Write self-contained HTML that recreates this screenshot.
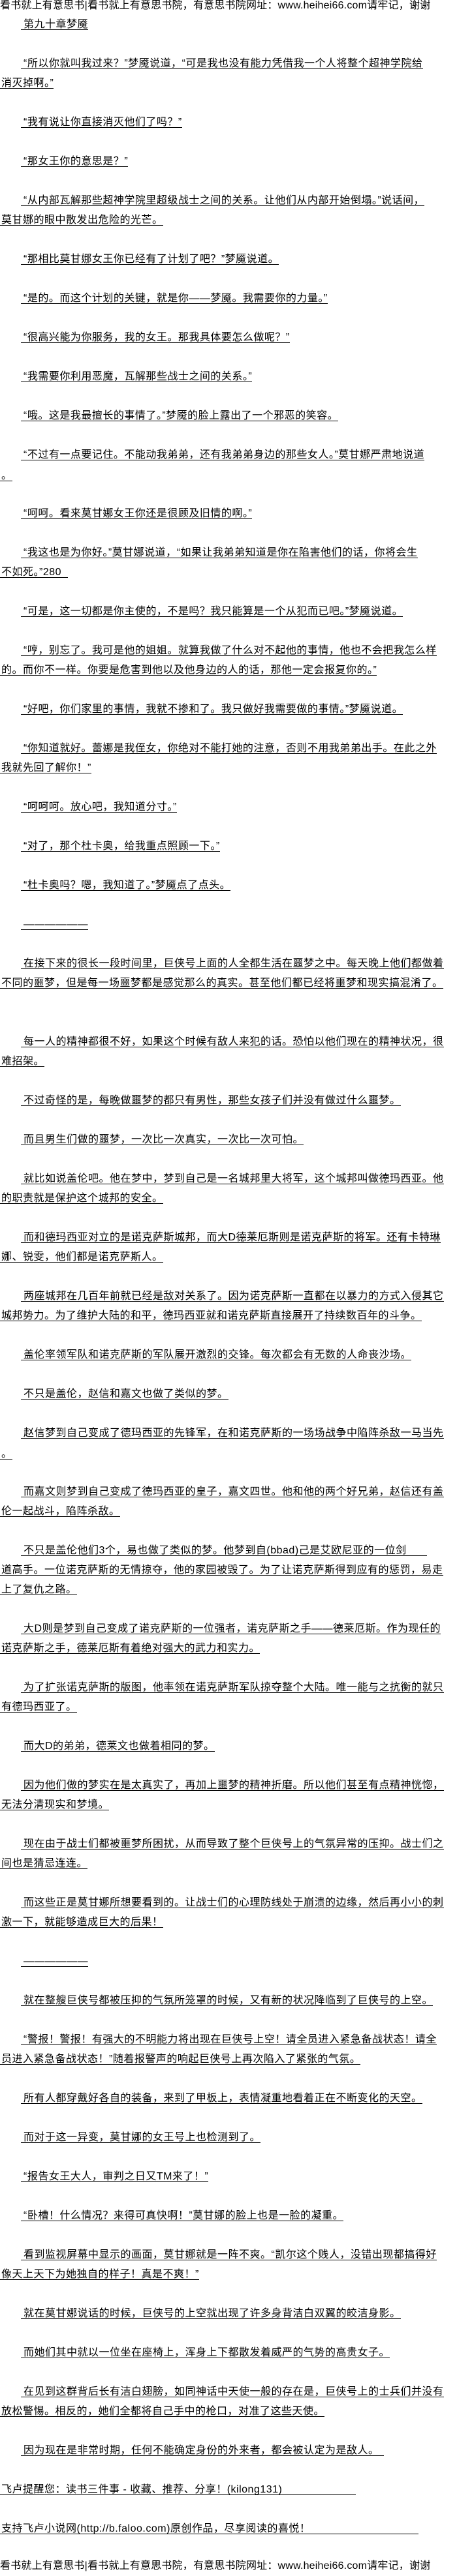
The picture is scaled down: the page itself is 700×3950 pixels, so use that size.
<!DOCTYPE html>
<html><head><meta charset="utf-8"><style>
html,body{margin:0;padding:0;background:#fff;}
body{width:700px;height:3950px;position:relative;overflow:hidden;font-family:"Liberation Sans","Noto Sans CJK SC",sans-serif;color:#000;}
div{position:absolute;white-space:nowrap;font-size:16px;line-height:14px;height:14px;letter-spacing:0.5px;}
.i{left:32px;padding-left:4px;border-bottom:1px solid #000;}
.c{left:0;padding-left:2px;border-bottom:1px solid #000;}
.h{left:0;border:none;letter-spacing:0.2px;}
</style></head><body>
<div class="h" style="top:2px">看书就上有意思书|看书就上有意思书院，有意思书院网址：www.heihei66.com请牢记，谢谢</div>
<div class="i" style="top:31px">第九十章梦魇</div>
<div class="i" style="top:91px">“所以你就叫我过来？”梦魇说道，“可是我也没有能力凭借我一个人将整个超神学院给</div>
<div class="c" style="top:121px">消灭掉啊。”</div>
<div class="i" style="top:181px">“我有说让你直接消灭他们了吗？”</div>
<div class="i" style="top:241px">“那女王你的意思是？”</div>
<div class="i" style="top:301px">“从内部瓦解那些超神学院里超级战士之间的关系。让他们从内部开始倒塌。”说话间，</div>
<div class="c" style="top:331px">莫甘娜的眼中散发出危险的光芒。</div>
<div class="i" style="top:391px">“那相比莫甘娜女王你已经有了计划了吧？”梦魇说道。</div>
<div class="i" style="top:451px">“是的。而这个计划的关键，就是你——梦魇。我需要你的力量。”</div>
<div class="i" style="top:511px">“很高兴能为你服务，我的女王。那我具体要怎么做呢？”</div>
<div class="i" style="top:571px">“我需要你利用恶魔，瓦解那些战士之间的关系。”</div>
<div class="i" style="top:631px">“哦。这是我最擅长的事情了。”梦魇的脸上露出了一个邪恶的笑容。</div>
<div class="i" style="top:691px">“不过有一点要记住。不能动我弟弟，还有我弟弟身边的那些女人。”莫甘娜严肃地说道</div>
<div class="c" style="top:723px">。</div>
<div class="i" style="top:781px">“呵呵。看来莫甘娜女王你还是很顾及旧情的啊。”</div>
<div class="i" style="top:841px">“我这也是为你好。”莫甘娜说道，“如果让我弟弟知道是你在陷害他们的话，你将会生</div>
<div class="c" style="top:871px">不如死。”280&nbsp;&nbsp;</div>
<div class="i" style="top:931px">“可是，这一切都是你主使的，不是吗？我只能算是一个从犯而已吧。”梦魇说道。</div>
<div class="i" style="top:991px">“哼，别忘了。我可是他的姐姐。就算我做了什么对不起他的事情，他也不会把我怎么样</div>
<div class="c" style="top:1021px">的。而你不一样。你要是危害到他以及他身边的人的话，那他一定会报复你的。”</div>
<div class="i" style="top:1081px">“好吧，你们家里的事情，我就不掺和了。我只做好我需要做的事情。”梦魇说道。</div>
<div class="i" style="top:1141px">“你知道就好。蕾娜是我侄女，你绝对不能打她的注意，否则不用我弟弟出手。在此之外</div>
<div class="c" style="top:1171px">我就先回了解你！”</div>
<div class="i" style="top:1231px">“呵呵呵。放心吧，我知道分寸。”</div>
<div class="i" style="top:1291px">“对了，那个杜卡奥，给我重点照顾一下。”</div>
<div class="i" style="top:1351px">“杜卡奥吗？嗯，我知道了。”梦魇点了点头。</div>
<div class="i" style="top:1411px">——————</div>
<div class="i" style="top:1471px">在接下来的很长一段时间里，巨侠号上面的人全都生活在噩梦之中。每天晚上他们都做着</div>
<div class="c" style="top:1501px">不同的噩梦，但是每一场噩梦都是感觉那么的真实。甚至他们都已经将噩梦和现实搞混淆了。</div>
<div class="i" style="top:1591px">每一人的精神都很不好，如果这个时候有敌人来犯的话。恐怕以他们现在的精神状况，很</div>
<div class="c" style="top:1621px">难招架。</div>
<div class="i" style="top:1681px">不过奇怪的是，每晚做噩梦的都只有男性，那些女孩子们并没有做过什么噩梦。</div>
<div class="i" style="top:1741px">而且男生们做的噩梦，一次比一次真实，一次比一次可怕。</div>
<div class="i" style="top:1801px">就比如说盖伦吧。他在梦中，梦到自己是一名城邦里大将军，这个城邦叫做德玛西亚。他</div>
<div class="c" style="top:1831px">的职责就是保护这个城邦的安全。</div>
<div class="i" style="top:1891px">而和德玛西亚对立的是诺克萨斯城邦，而大D德莱厄斯则是诺克萨斯的将军。还有卡特琳</div>
<div class="c" style="top:1921px">娜、锐雯，他们都是诺克萨斯人。</div>
<div class="i" style="top:1981px">两座城邦在几百年前就已经是敌对关系了。因为诺克萨斯一直都在以暴力的方式入侵其它</div>
<div class="c" style="top:2011px">城邦势力。为了维护大陆的和平，德玛西亚就和诺克萨斯直接展开了持续数百年的斗争。</div>
<div class="i" style="top:2071px">盖伦率领军队和诺克萨斯的军队展开激烈的交锋。每次都会有无数的人命丧沙场。</div>
<div class="i" style="top:2131px">不只是盖伦，赵信和嘉文也做了类似的梦。</div>
<div class="i" style="top:2191px">赵信梦到自己变成了德玛西亚的先锋军，在和诺克萨斯的一场场战争中陷阵杀敌一马当先</div>
<div class="c" style="top:2223px">。</div>
<div class="i" style="top:2281px">而嘉文则梦到自己变成了德玛西亚的皇子，嘉文四世。他和他的两个好兄弟，赵信还有盖</div>
<div class="c" style="top:2311px">伦一起战斗，陷阵杀敌。</div>
<div class="i" style="top:2371px;width:618px">不只是盖伦他们3个，易也做了类似的梦。他梦到自(bbad)己是艾欧尼亚的一位剑</div>
<div class="c" style="top:2401px">道高手。一位诺克萨斯的无情掠夺，他的家园被毁了。为了让诺克萨斯得到应有的惩罚，易走</div>
<div class="c" style="top:2431px">上了复仇之路。</div>
<div class="i" style="top:2491px">大D则是梦到自己变成了诺克萨斯的一位强者，诺克萨斯之手——德莱厄斯。作为现任的</div>
<div class="c" style="top:2521px">诺克萨斯之手，德莱厄斯有着绝对强大的武力和实力。</div>
<div class="i" style="top:2581px">为了扩张诺克萨斯的版图，他率领在诺克萨斯军队掠夺整个大陆。唯一能与之抗衡的就只</div>
<div class="c" style="top:2611px">有德玛西亚了。</div>
<div class="i" style="top:2671px">而大D的弟弟，德莱文也做着相同的梦。</div>
<div class="i" style="top:2731px">因为他们做的梦实在是太真实了，再加上噩梦的精神折磨。所以他们甚至有点精神恍惚，</div>
<div class="c" style="top:2761px">无法分清现实和梦境。</div>
<div class="i" style="top:2821px">现在由于战士们都被噩梦所困扰，从而导致了整个巨侠号上的气氛异常的压抑。战士们之</div>
<div class="c" style="top:2851px">间也是猜忌连连。</div>
<div class="i" style="top:2911px">而这些正是莫甘娜所想要看到的。让战士们的心理防线处于崩溃的边缘，然后再小小的刺</div>
<div class="c" style="top:2941px">激一下，就能够造成巨大的后果！</div>
<div class="i" style="top:3001px">——————</div>
<div class="i" style="top:3061px">就在整艘巨侠号都被压抑的气氛所笼罩的时候，又有新的状况降临到了巨侠号的上空。</div>
<div class="i" style="top:3121px">“警报！警报！有强大的不明能力将出现在巨侠号上空！请全员进入紧急备战状态！请全</div>
<div class="c" style="top:3151px">员进入紧急备战状态！”随着报警声的响起巨侠号上再次陷入了紧张的气氛。</div>
<div class="i" style="top:3211px">所有人都穿戴好各自的装备，来到了甲板上，表情凝重地看着正在不断变化的天空。</div>
<div class="i" style="top:3271px">而对于这一异变，莫甘娜的女王号上也检测到了。</div>
<div class="i" style="top:3331px">“报告女王大人，审判之日又TM来了！”</div>
<div class="i" style="top:3391px">“卧槽！什么情况？来得可真快啊！”莫甘娜的脸上也是一脸的凝重。</div>
<div class="i" style="top:3451px">看到监视屏幕中显示的画面，莫甘娜就是一阵不爽。“凯尔这个贱人，没错出现都搞得好</div>
<div class="c" style="top:3481px">像天上天下为她独自的样子！真是不爽！”</div>
<div class="i" style="top:3541px">就在莫甘娜说话的时候，巨侠号的上空就出现了许多身背洁白双翼的皎洁身影。</div>
<div class="i" style="top:3601px">而她们其中就以一位坐在座椅上，浑身上下都散发着威严的气势的高贵女子。</div>
<div class="i" style="top:3661px">在见到这群背后长有洁白翅膀，如同神话中天使一般的存在是，巨侠号上的士兵们并没有</div>
<div class="c" style="top:3691px">放松警惕。相反的，她们全都将自己手中的枪口，对准了这些天使。</div>
<div class="i" style="top:3751px;width:552px">因为现在是非常时期，任何不能确定身份的外来者，都会被认定为是敌人。</div>
<div class="c" style="top:3811px;width:543px">飞卢提醒您：读书三件事 - 收藏、推荐、分享！(kilong131)</div>
<div class="c" style="top:3871px;width:639px">支持飞卢小说网(http://b.faloo.com)原创作品，尽享阅读的喜悦！</div>
<div class="h" style="top:3928px">看书就上有意思书|看书就上有意思书院，有意思书院网址：www.heihei66.com请牢记，谢谢</div>
</body></html>
